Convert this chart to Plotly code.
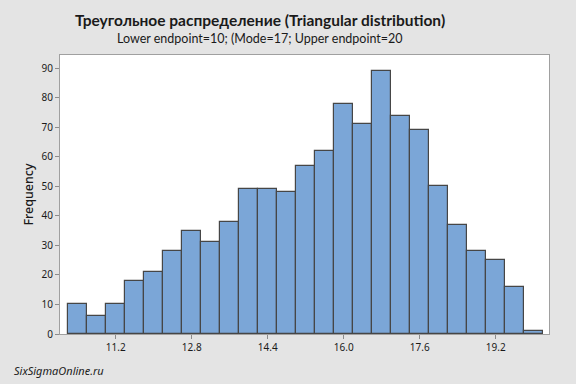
import plotly.graph_objects as go

midpoints = [10.4, 10.8, 11.2, 11.6, 12.0, 12.4, 12.8, 13.2, 13.6, 14.0, 14.4, 14.8, 15.2,
             15.6, 16.0, 16.4, 16.8, 17.2, 17.6, 18.0, 18.4, 18.8, 19.2, 19.6, 20.0]
frequency = [10, 6, 10, 18, 21, 28, 35, 31, 38, 49, 49, 48, 57,
             62, 78, 71, 89, 74, 69, 50, 37, 28, 25, 16, 1]
x_ticks = [11.2, 12.8, 14.4, 16.0, 17.6, 19.2]
x_tick_labels = ["11.2", "12.8", "14.4", "16.0", "17.6", "19.2"]
y_ticks = [0, 10, 20, 30, 40, 50, 60, 70, 80, 90]

title = "Треугольное распределение (Triangular distribution)"
subtitle = "Lower endpoint=10; (Mode=17; Upper endpoint=20"
watermark = "SixSigmaOnline.ru"

FONT = "Noto Sans"
TFONT = "Lato"

fig = go.Figure(go.Bar(
    x=midpoints, y=frequency, width=0.4,
    marker=dict(color="#7BA6D7", line=dict(color="#464646", width=1.2)),
))

fig.update_layout(
    width=576, height=384,
    margin=dict(l=60, r=27, t=55, b=50),
    paper_bgcolor="#E4E4E4", plot_bgcolor="#FFFFFF",
    showlegend=False, bargap=0,
    font=dict(family=FONT, color="#1A1A1A", size=10),
    xaxis=dict(range=[10.027, 20.32], tickvals=x_ticks, ticktext=x_tick_labels,
               ticks="outside", ticklen=4, tickcolor="#8C8C8C", showgrid=False, zeroline=False,
               showline=True, linecolor="#A0A0A0", linewidth=1, mirror=True,
               tickfont=dict(size=10, family=FONT, color="#1A1A1A")),
    yaxis=dict(range=[0, 94.5], tickvals=y_ticks, ticks="outside", ticklen=4, tickcolor="#8C8C8C",
               showgrid=False, zeroline=False, showline=True, linecolor="#A0A0A0", linewidth=1,
               mirror=True, tickfont=dict(size=10, family=FONT, color="#1A1A1A"),
               title=dict(text="Frequency", font=dict(size=12.5, family=FONT, color="#1A1A1A", weight=500),
                          standoff=5)),
    annotations=[
        dict(text=title, xref="paper", yref="paper", x=0.41, y=1.125, showarrow=False,
             xanchor="center", yanchor="middle",
             font=dict(size=15.5, family=TFONT, color="#1A1A1A", weight=700)),
        dict(text=subtitle, xref="paper", yref="paper", x=0.41, y=1.06, showarrow=False,
             xanchor="center", yanchor="middle",
             font=dict(size=12.5, family=TFONT, color="#1A1A1A")),
        dict(text="<i>" + watermark + "</i>", xref="paper", yref="paper",
             x=-0.099, y=-0.13, showarrow=False, xanchor="left", yanchor="middle",
             font=dict(size=11, family=FONT, color="#1A1A1A")),
    ],
)

fig.write_html("out.html", config={"displayModeBar": False},
               post_script="document.body.style.margin='0';document.body.style.overflow='hidden';")
